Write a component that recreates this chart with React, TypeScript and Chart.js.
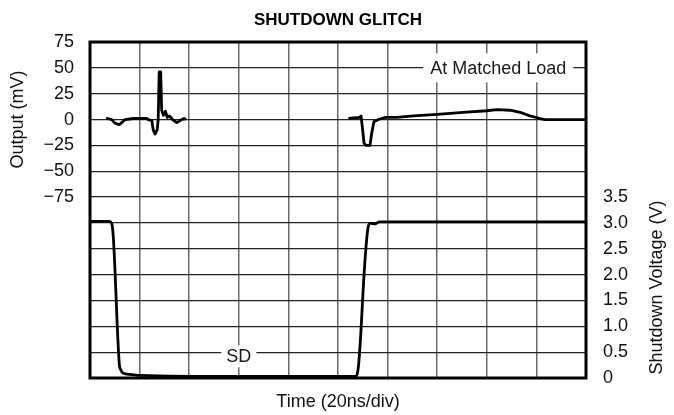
import React, { useEffect, useRef } from 'react';
import { Chart, registerables } from 'chart.js';

Chart.register(...registerables);

const chartTitle = 'SHUTDOWN GLITCH';
const xAxisTitle = 'Time (20ns/div)';
const leftAxisTitle = 'Output (mV)';
const rightAxisTitle = 'Shutdown Voltage (V)';
const outputLabel = 'At Matched Load';
const sdLabel = 'SD';

const timeRange = [0, 200];
const timeStep = 20;
const mvRange = [-250, 75];
const mvStep = 25;
const mvLabelFloor = -75;
const voltRange = [0, 6.5];
const voltStep = 0.5;
const voltLabelCeil = 3.5;

// annotation anchors (data units)
const outputLabelAt = [164.6, 50];
const sdLabelAt = [60, 0.42];

// Output trace (time ns, mV); null = no trace drawn
const outTimeNs = [
  6.5, 8.7, 10.1, 11.8, 12.8, 14.1, 17.5, 22.9, 23.5, 24.9, 25.5, 26.2, 27.1, 27.5, 27.9, 28.5,
  28.9, 29.6, 30.4, 31.2, 32.0, 33.3, 35.0, 36.3, 37.9, 38.7, 70,
  104.2, 108.6, 109.3, 109.8, 110.5, 111.3, 112.9, 113.6, 114.5, 116.3, 118.9, 123.7, 130.4,
  140.0, 150.5, 160.0, 164.0, 169.4, 173.4, 177.4, 181.5, 183.5, 200,
];
const outMv = [
  1.5, 0, -3.5, -5, -3, 0, 1, 1, 0, -1, -10, -14, -10, 0, 46, 46,
  9, 4, 8, 2, 3.5, 0, -3, -1, 1, 0, null,
  1, 2, 3.5, -7, -23, -25, -25, -13, -2, 0, 2, 2, 3.5,
  5, 7, 8.5, 9.5, 9, 7, 3.5, 1, 0, 0,
];

// Shutdown (SD) trace (time ns, V)
const sdTimeNs = [
  0, 7.8, 8.75, 9.4, 11.8, 12.4, 13.4, 16.1, 20.2, 60, 107.3,
  108.2, 109.2, 110.2, 111.3, 112.2, 113.2, 114.9, 116.7, 200,
];
const sdVolts = [
  3.03, 3.03, 2.99, 2.73, 0.28, 0.16, 0.09, 0.07, 0.05, 0.03, 0.03,
  0.21, 0.86, 1.76, 2.54, 2.93, 2.99, 2.98, 3.02, 3.02,
];

const FONT = "'Liberation Sans', Arial, Helvetica, sans-serif";

const decorPlugin = {
  id: 'decor',
  beforeDatasetsDraw(chart: any) {
    const { ctx, scales } = chart;
    const x = scales.x;
    const y = scales.y;
    const y2 = scales.y2;
    const boxes = [
      { text: outputLabel, px: x.getPixelForValue(outputLabelAt[0]), py: y.getPixelForValue(outputLabelAt[1]), padX: 7, h: 29 },
      { text: sdLabel, px: x.getPixelForValue(sdLabelAt[0]), py: y2.getPixelForValue(sdLabelAt[1]), padX: 5, h: 22 },
    ];
    ctx.save();
    ctx.font = `18px ${FONT}`;
    ctx.textAlign = 'center';
    ctx.textBaseline = 'middle';
    for (const b of boxes) {
      const w = ctx.measureText(b.text).width + b.padX * 2;
      ctx.fillStyle = '#ffffff';
      ctx.fillRect(b.px - w / 2, b.py - b.h / 2, w, b.h);
      ctx.fillStyle = '#1a1a1a';
      ctx.fillText(b.text, b.px, b.py + 1);
    }
    ctx.restore();
  },
  afterDraw(chart: any) {
    const { ctx, chartArea, scales } = chart;
    const { left, right, top, bottom } = chartArea;
    ctx.save();
    ctx.strokeStyle = '#000';
    ctx.lineWidth = 3;
    ctx.strokeRect(left, top, right - left, bottom - top);

    ctx.fillStyle = '#000';
    ctx.textAlign = 'center';
    ctx.textBaseline = 'middle';
    ctx.font = `bold 17px ${FONT}`;
    ctx.fillText(chartTitle, (left + right) / 2, 20);

    ctx.font = `18px ${FONT}`;
    ctx.fillStyle = '#111';
    ctx.fillText(xAxisTitle, (left + right) / 2, 402);

    const yMid = (scales.y.getPixelForValue(mvRange[1]) + scales.y.getPixelForValue(mvLabelFloor)) / 2;
    ctx.save();
    ctx.translate(18, yMid);
    ctx.rotate(-Math.PI / 2);
    ctx.fillText(leftAxisTitle, 0, 0);
    ctx.restore();

    const vMid = (scales.y2.getPixelForValue(voltRange[0]) + scales.y2.getPixelForValue(voltLabelCeil)) / 2;
    ctx.save();
    ctx.translate(657, vMid);
    ctx.rotate(-Math.PI / 2);
    ctx.fillText(rightAxisTitle, 0, 0);
    ctx.restore();

    ctx.restore();
  },
};

export default function App() {
  const ref = useRef<HTMLCanvasElement | null>(null);

  useEffect(() => {
    if (!ref.current) return;
    const outData = outTimeNs.map((t, i) => ({ x: t, y: outMv[i] }));
    const sdData = sdTimeNs.map((t, i) => ({ x: t, y: sdVolts[i] }));
    const chart = new Chart(ref.current, {
      type: 'line',
      data: {
        datasets: [
          {
            label: 'Output',
            data: outData as any,
            yAxisID: 'y',
            borderColor: '#000',
            borderWidth: 2.8,
            pointRadius: 0,
            tension: 0,
            spanGaps: false,
            borderJoinStyle: 'round',
          },
          {
            label: 'SD',
            data: sdData as any,
            yAxisID: 'y2',
            borderColor: '#000',
            borderWidth: 2.8,
            pointRadius: 0,
            cubicInterpolationMode: 'monotone',
            borderJoinStyle: 'round',
          },
        ],
      },
      options: {
        responsive: false,
        animation: false,
        layout: { padding: { top: 42, left: 0, right: 0, bottom: 0 } },
        plugins: { legend: { display: false }, tooltip: { enabled: false }, title: { display: false } },
        scales: {
          x: {
            type: 'linear',
            min: timeRange[0],
            max: timeRange[1],
            ticks: { display: false, stepSize: timeStep },
            grid: { color: '#6a6a6a', lineWidth: 1.5, drawTicks: false },
            border: { display: false },
            afterFit: (s: any) => { s.height = 37; },
          },
          y: {
            type: 'linear',
            position: 'left',
            min: mvRange[0],
            max: mvRange[1],
            ticks: {
              stepSize: mvStep,
              padding: 16,
              color: '#111',
              font: { family: FONT, size: 18 },
              callback: (v: any) => (v < mvLabelFloor ? '' : v < 0 ? '\u2212' + Math.abs(v) : String(v)),
            },
            grid: { color: '#222', lineWidth: 1.3, drawTicks: false },
            border: { display: false },
            afterFit: (s: any) => { s.width = 90; },
          },
          y2: {
            type: 'linear',
            position: 'right',
            min: voltRange[0],
            max: voltRange[1],
            ticks: {
              stepSize: voltStep,
              padding: 17,
              color: '#111',
              font: { family: FONT, size: 18 },
              callback: (v: any) => (v > voltLabelCeil ? '' : v === 0 ? '0' : Number(v).toFixed(1)),
            },
            grid: { display: false, drawTicks: false },
            border: { display: false },
            afterFit: (s: any) => { s.width = 88; },
          },
        },
      },
      plugins: [decorPlugin],
    });
    return () => chart.destroy();
  }, []);

  return (
    <div style={{ position: 'fixed', left: 0, top: 0, width: 674, height: 415, background: '#fff' }}>
      <canvas ref={ref} width={674} height={415} />
    </div>
  );
}
